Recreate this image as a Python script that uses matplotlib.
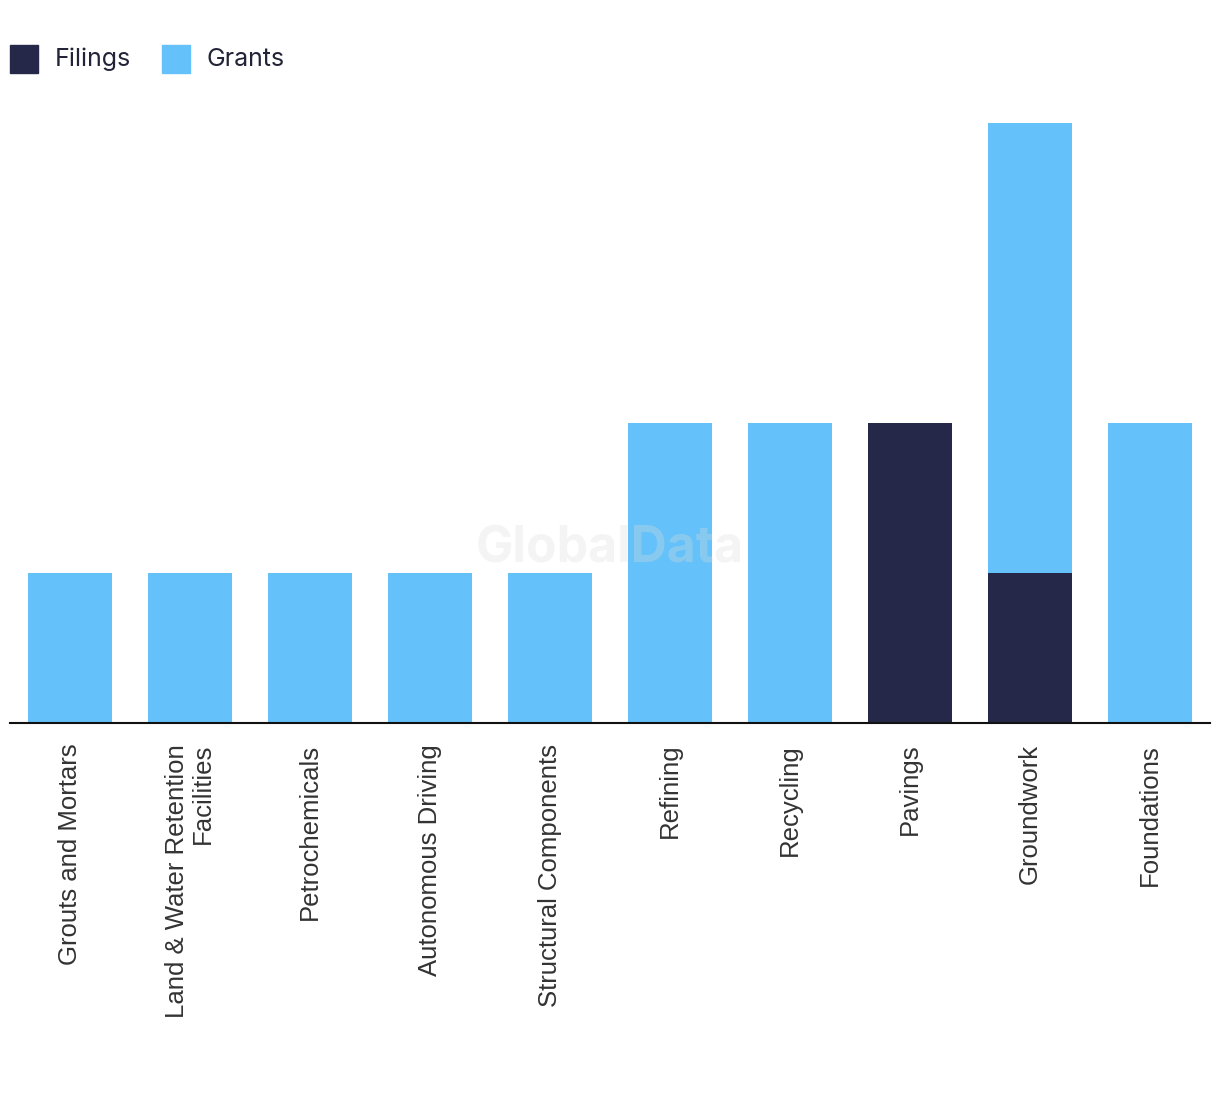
import matplotlib
matplotlib.use("Agg")
import matplotlib.pyplot as plt
from matplotlib.patches import Rectangle
import numpy as np

categories = ["Grouts and Mortars", "Land & Water Retention\nFacilities", "Petrochemicals",
              "Autonomous Driving", "Structural Components", "Refining", "Recycling",
              "Pavings", "Groundwork", "Foundations"]
filings = [0, 0, 0, 0, 0, 0, 0, 2, 1, 0]
grants = [1, 1, 1, 1, 1, 2, 2, 0, 3, 2]
legend_labels = ["Filings", "Grants"]

c_filings = "#262849"
c_grants = "#64C1F9"
text_color = "#222336"
label_color = "#333333"

plt.rcParams['font.family'] = ['Inter', 'DejaVu Sans']

W, H = 1220, 1094
fig = plt.figure(figsize=(W/100, H/100), dpi=100)
ax = fig.add_axes([10/W, (H-723)/H, 1200/W, 600/H])

x = np.arange(len(categories))
ax.bar(x, filings, width=0.7, color=c_filings, zorder=2)
ax.bar(x, grants, width=0.7, bottom=filings, color=c_grants, zorder=2)

ax.set_xlim(-0.5, len(categories) - 0.5)
ax.set_ylim(0, 4)
ax.set_yticks([])
for s in ["top", "right", "left"]:
    ax.spines[s].set_visible(False)
ax.spines["bottom"].set_color("#111111")
ax.spines["bottom"].set_linewidth(1.5)
ax.spines["bottom"].set_zorder(3)
ax.set_xticks(x)
ax.set_xticklabels(categories, rotation=90, fontsize=18.5, color=label_color,
                   multialignment="right", family=["Liberation Sans", "DejaVu Sans"],
                   linespacing=1.1)
ax.tick_params(axis="x", length=0, pad=15)

ax.text(0.5, 0.29, "GlobalData", transform=ax.transAxes, ha="center", va="center",
        fontsize=36, fontweight="bold", color="#dddddd", alpha=0.3, zorder=5)

# legend
for i, (lab, col) in enumerate(zip(legend_labels, [c_filings, c_grants])):
    x0 = [10, 162][i]
    fig.patches.append(Rectangle((x0/W, (H-73)/H), 28/W, 28/H, transform=fig.transFigure,
                                 color=col, figure=fig))
    fig.text((x0+45)/W, (H-59)/H, lab, ha="left", va="center", fontsize=18,
             color=text_color)

fig.savefig("out.png", dpi=100)
